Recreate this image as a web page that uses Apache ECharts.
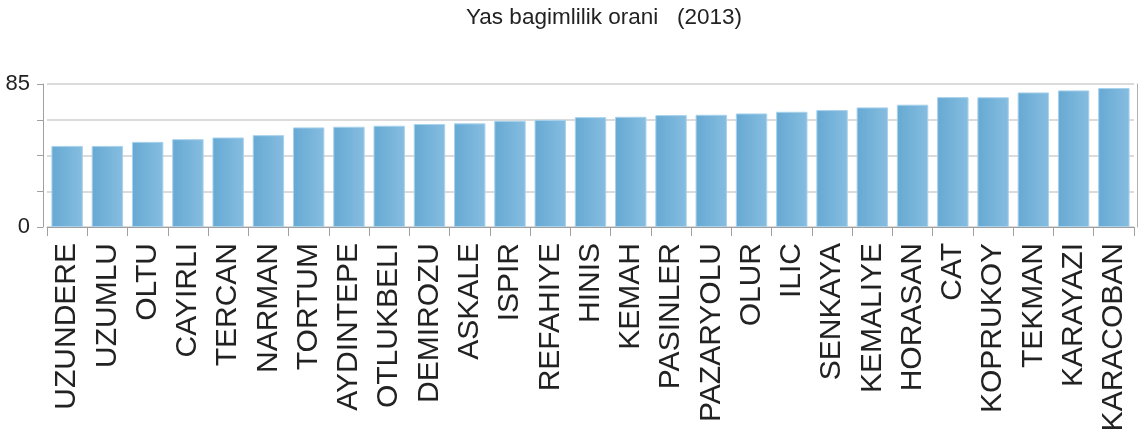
<!DOCTYPE html>
<html>
<head>
<meta charset="utf-8">
<script src="https://cdn.jsdelivr.net/npm/echarts@6/dist/echarts.min.js"></script>
<style>
html,body{margin:0;padding:0;background:#fff;}
#c{width:1147px;height:439px;}
</style>
</head>
<body>
<div id="c"></div>
<script>
const titleText = 'Yas bagimlilik orani   (2013)';
const categories = ['UZUNDERE','UZUMLU','OLTU','CAYIRLI','TERCAN','NARMAN','TORTUM','AYDINTEPE','OTLUKBELI','DEMIROZU','ASKALE','ISPIR','REFAHIYE','HINIS','KEMAH','PASINLER','PAZARYOLU','OLUR','ILIC','SENKAYA','KEMALIYE','HORASAN','CAT','KOPRUKOY','TEKMAN','KARAYAZI','KARACOBAN'];
const values = [48.2,48.2,50.6,52.2,53.2,54.6,59.2,59.6,60.2,61.2,61.6,63.1,63.7,65.3,65.5,66.5,66.7,67.5,68.5,69.5,71.1,72.7,77.2,77.1,80.0,81.2,82.6];
const yMin = 0, yMax = 85, yStep = 21.25;
const yLabels = [0, 85];

const font = "'Liberation Sans',Arial,sans-serif";

const chart = echarts.init(document.getElementById('c'), null, {renderer:'canvas'});
chart.setOption({
  animation:false,
  backgroundColor:'#ffffff',
  title:{
    text:titleText,
    left:599, top:1, textAlign:'center',
    textStyle:{fontFamily:font, fontSize:22.5, fontWeight:'normal', color:'#222'}
  },
  grid:{left:47, right:13, top:84, bottom:212},
  xAxis:{
    type:'category', data:categories, boundaryGap:true,
    axisLine:{lineStyle:{color:'#a0a0a0', width:1}},
    axisTick:{show:true, length:9, alignWithLabel:false, interval:0, lineStyle:{color:'#a0a0a0'}},
    axisLabel:{rotate:90, interval:0, margin:16, fontFamily:font, fontSize:30, color:'#222'}
  },
  yAxis:[{
    type:'value', min:yMin, max:yMax, interval:yStep, offset:4,
    axisLine:{show:true, lineStyle:{color:'#a0a0a0'}},
    axisTick:{show:true, length:6, lineStyle:{color:'#a0a0a0'}},
    splitLine:{show:true, lineStyle:{color:'#cfcfcf', width:1.5}},
    axisLabel:{margin:13, fontFamily:font, fontSize:22, color:'#222',
      formatter:function(v){ return yLabels.indexOf(v) >= 0 ? String(v) : ''; }}
  },{
    type:'value', min:yMin, max:yMax, interval:yStep, position:'right', offset:3,
    axisLine:{show:true, lineStyle:{color:'#b0b0b0'}},
    axisTick:{show:false}, axisLabel:{show:false}, splitLine:{show:false}
  }],
  series:[{
    type:'bar', data:values, barCategoryGap:'22%',
    itemStyle:{
      color:new echarts.graphic.LinearGradient(0,0,1,0,[{offset:0,color:'#66a9d3'},{offset:1,color:'#86bde0'}]),
      borderColor:'#a9d2ec', borderWidth:1
    }
  }]
});
</script>
</body>
</html>
